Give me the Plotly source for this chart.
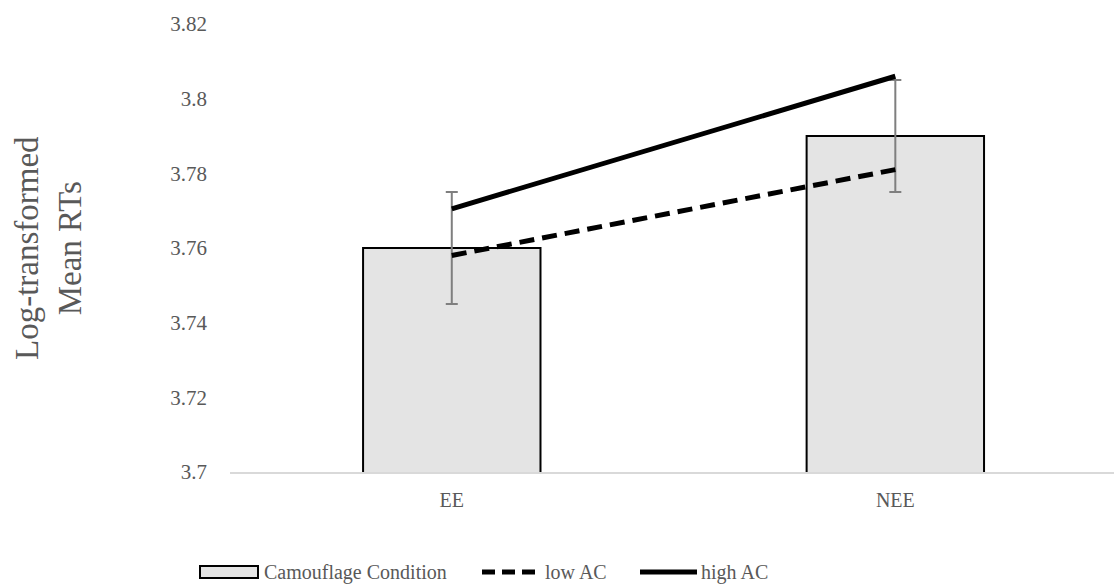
import plotly.graph_objects as go

categories = ["EE", "NEE"]
camouflage_means = [3.76, 3.79]
camouflage_err = [0.015, 0.015]
low_ac = [3.758, 3.781]
high_ac = [3.7705, 3.806]
y_ticks = [3.7, 3.72, 3.74, 3.76, 3.78, 3.8, 3.82]
y_tick_text = ["3.7", "3.72", "3.74", "3.76", "3.78", "3.8", "3.82"]
series_names = ["Camouflage Condition", "low AC", "high AC"]

W, H = 1114, 586
L, R, T, B = 230, 0, 24, 114
pw, ph = W - L - R, H - T - B
FONT = "Liberation Serif, Times New Roman, serif"
GREY = "#595959"


def px(x):
    return (x - L) / pw


def py(y):
    return (H - B - y) / ph


fig = go.Figure()
fig.add_trace(go.Bar(
    x=categories, y=camouflage_means, name=series_names[0],
    marker=dict(color="#e4e4e4", line=dict(color="black", width=2)),
    error_y=dict(type="data", array=camouflage_err, color="#7f7f7f",
                 thickness=2, width=6),
    width=0.4, showlegend=False,
))
fig.add_trace(go.Scatter(
    x=categories, y=low_ac, name=series_names[1], mode="lines",
    line=dict(color="black", width=5, dash="15px,8px"), showlegend=False,
))
fig.add_trace(go.Scatter(
    x=categories, y=high_ac, name=series_names[2], mode="lines",
    line=dict(color="black", width=5), showlegend=False,
))

# legend drawn along the bottom
ly = 572
shapes = [
    dict(type="rect", xref="paper", yref="paper",
         x0=px(200), x1=px(258), y0=py(578), y1=py(566),
         fillcolor="#e4e4e4", line=dict(color="black", width=2)),
    dict(type="line", xref="paper", yref="paper",
         x0=px(482), x1=px(537), y0=py(ly), y1=py(ly),
         line=dict(color="black", width=5, dash="13px,7px")),
    dict(type="line", xref="paper", yref="paper",
         x0=px(640), x1=px(697), y0=py(ly), y1=py(ly),
         line=dict(color="black", width=5)),
]
annotations = [
    dict(text=series_names[0], x=px(262), y=py(ly), xref="paper", yref="paper",
         xanchor="left", yanchor="middle", showarrow=False,
         font=dict(family=FONT, size=20, color=GREY)),
    dict(text=series_names[1], x=px(543), y=py(ly), xref="paper", yref="paper",
         xanchor="left", yanchor="middle", showarrow=False,
         font=dict(family=FONT, size=20, color=GREY)),
    dict(text=series_names[2], x=px(699), y=py(ly), xref="paper", yref="paper",
         xanchor="left", yanchor="middle", showarrow=False,
         font=dict(family=FONT, size=20, color=GREY)),
    dict(text="Log-transformed<br>Mean RTs", x=px(48), y=py(248),
         xref="paper", yref="paper", xanchor="center", yanchor="middle",
         textangle=-90, showarrow=False,
         font=dict(family=FONT, size=33, color=GREY)),
]

fig.update_layout(
    width=W, height=H,
    margin=dict(l=L, r=R, t=T, b=B, pad=0),
    paper_bgcolor="white", plot_bgcolor="white",
    font=dict(family=FONT, size=20, color=GREY),
    shapes=shapes, annotations=annotations,
    xaxis=dict(range=[-0.5, 1.493], showgrid=False, showline=True,
               linecolor="#d9d9d9", linewidth=1.5, ticks="",
               ticklabelstandoff=9, tickfont=dict(size=20, color=GREY)),
    yaxis=dict(range=[3.7, 3.82], tickvals=y_ticks, ticktext=y_tick_text,
               showgrid=False, zeroline=False, showline=False, ticks="",
               ticklabelstandoff=22, tickfont=dict(size=21, color=GREY)),
)

fig.write_html("out.html")
